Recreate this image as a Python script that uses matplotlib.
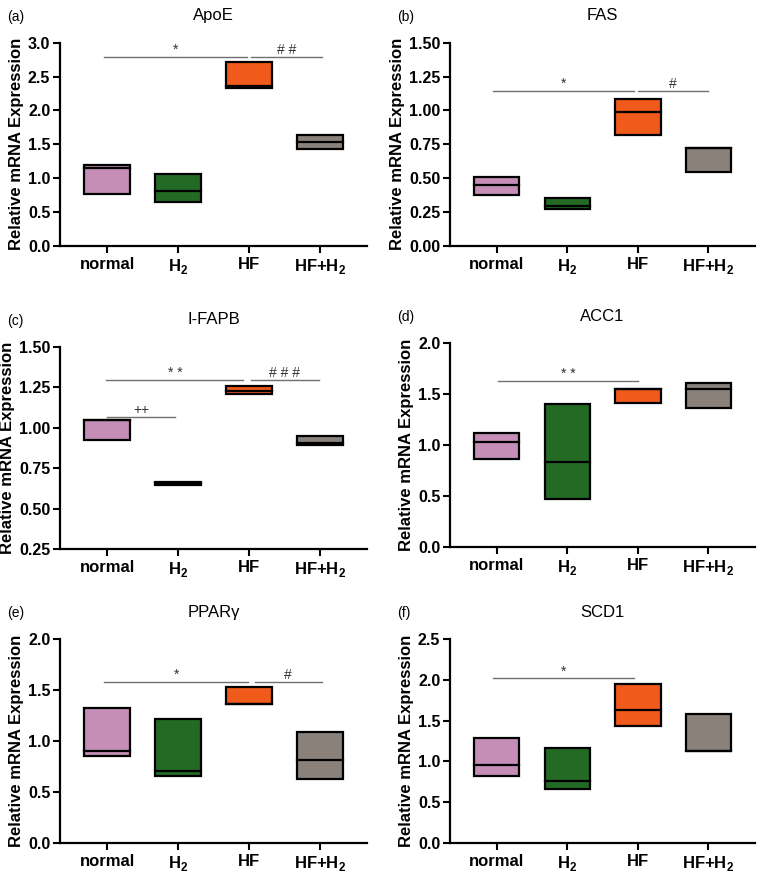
import numpy as np
import matplotlib
matplotlib.use('Agg')
import matplotlib.pyplot as plt

plt.rcParams['font.family'] = ['Liberation Sans', 'DejaVu Sans']
plt.rcParams['mathtext.fontset'] = 'custom'
plt.rcParams['mathtext.rm'] = 'Liberation Sans'

groups = ['normal', r'H$_{\mathregular{2}}$', 'HF', r'HF+H$_{\mathregular{2}}$']
colors = ['#C48EB6', '#236A24', '#F05A1A', '#8A817B']

# box bounds (low, median, high) per gene, in group order
apoe_low = [0.76, 0.65, 2.33, 1.43]
apoe_mid = [1.15, 0.81, 2.36, 1.53]
apoe_high = [1.19, 1.06, 2.71, 1.64]

fas_low = [0.376, 0.275, 0.819, 0.546]
fas_mid = [0.448, 0.298, 0.991, 0.725]
fas_high = [0.511, 0.352, 1.087, 0.725]

ifapb_low = [0.923, 0.645, 1.208, 0.895]
ifapb_mid = [1.046, 0.655, 1.225, 0.905]
ifapb_high = [1.046, 0.665, 1.260, 0.946]

acc1_low = [0.859, 0.475, 1.416, 1.364]
acc1_mid = [1.03, 0.83, 1.548, 1.548]
acc1_high = [1.121, 1.403, 1.548, 1.607]

pparg_low = [0.852, 0.656, 1.361, 0.630]
pparg_mid = [0.902, 0.705, 1.361, 0.81]
pparg_high = [1.321, 1.213, 1.531, 1.092]

scd1_low = [0.825, 0.666, 1.438, 1.132]
scd1_mid = [0.96, 0.764, 1.63, 1.132]
scd1_high = [1.291, 1.16, 1.953, 1.585]

# significance bars: (x1, x2, y, label)
apoe_sig = [(-0.04, 1.97, 2.79, '*'), (2.03, 3.02, 2.79, '# #')]
fas_sig = [(-0.05, 1.95, 1.146, '*'), (2.0, 2.99, 1.146, '#')]
ifapb_sig = [(-0.01, 1.92, 1.294, '* *'), (2.02, 2.98, 1.294, '# # #'),
             (0.0, 0.96, 1.068, '++')]
acc1_sig = [(0.02, 2.0, 1.63, '* *')]
pparg_sig = [(-0.04, 1.98, 1.577, '*'), (2.08, 3.02, 1.577, '#')]
scd1_sig = [(-0.05, 1.95, 2.018, '*')]

panels = [
    ('(a)', 'ApoE', apoe_low, apoe_mid, apoe_high, apoe_sig, (0, 3.0), 0.5, '%.1f'),
    ('(b)', 'FAS', fas_low, fas_mid, fas_high, fas_sig, (0, 1.5), 0.25, '%.2f'),
    ('(c)', 'I-FAPB', ifapb_low, ifapb_mid, ifapb_high, ifapb_sig, (0.25, 1.5), 0.25, '%.2f'),
    ('(d)', 'ACC1', acc1_low, acc1_mid, acc1_high, acc1_sig, (0, 2.0), 0.5, '%.1f'),
    ('(e)', 'PPARγ', pparg_low, pparg_mid, pparg_high, pparg_sig, (0, 2.0), 0.5, '%.1f'),
    ('(f)', 'SCD1', scd1_low, scd1_mid, scd1_high, scd1_sig, (0, 2.5), 0.5, '%.1f'),
]

W, H = 760, 873
# axes rectangles in pixels: left, top, right, bottom
rects = [
    (60, 42.7, 367, 246),
    (450, 42.7, 755, 246),
    (60, 346.7, 367, 549),
    (450, 343, 755, 547),
    (60, 639, 367, 843),
    (450, 639, 755, 843),
]

fig = plt.figure(figsize=(W / 100, H / 100), dpi=100)

for (letter, title, low, mid, high, sig, ylim, step, fmt), (l, t, r, b) in zip(panels, rects):
    ax = fig.add_axes([l / W, 1 - b / H, (r - l) / W, (b - t) / H])
    x = np.arange(len(groups))
    low = np.array(low)
    high = np.array(high)
    ax.bar(x, high - low, bottom=low, width=0.64, color=colors,
           edgecolor='black', linewidth=1.6, zorder=3)
    for xi, m in zip(x, mid):
        ax.plot([xi - 0.32, xi + 0.32], [m, m], color='black', lw=1.6, zorder=4)

    for x1, x2, y, txt in sig:
        ax.plot([x1, x2], [y, y], color='#707070', lw=1.0, zorder=2)
        ax.text((x1 + x2) / 2, y, txt, ha='center', va='bottom', fontsize=10,
                color='#333333')

    ax.set_xlim(-0.665, 3.66)
    ax.set_ylim(*ylim)
    yt = np.arange(ylim[0], ylim[1] + step / 2, step)
    ax.set_yticks(yt)
    ax.set_yticklabels([fmt % v for v in yt], fontsize=11.5, fontweight='bold')
    ax.set_xticks(x)
    ax.set_xticklabels(groups, fontsize=12, fontweight='bold')
    ax.tick_params(axis='both', direction='out', length=5, width=1.5)
    ax.tick_params(axis='x', pad=3)
    ax.tick_params(axis='y', pad=2)
    for s in ['top', 'right']:
        ax.spines[s].set_visible(False)
    for s in ['left', 'bottom']:
        ax.spines[s].set_linewidth(1.6)
    ax.set_ylabel('Relative mRNA Expression', fontsize=12, fontweight='bold', labelpad=3)
    ax.set_title(title, fontsize=12, pad=16)
    fig.text((l - 53) / W, 1 - (t - 26) / H, letter, fontsize=10, ha='left', va='center')

fig.savefig('out.png', dpi=100)
